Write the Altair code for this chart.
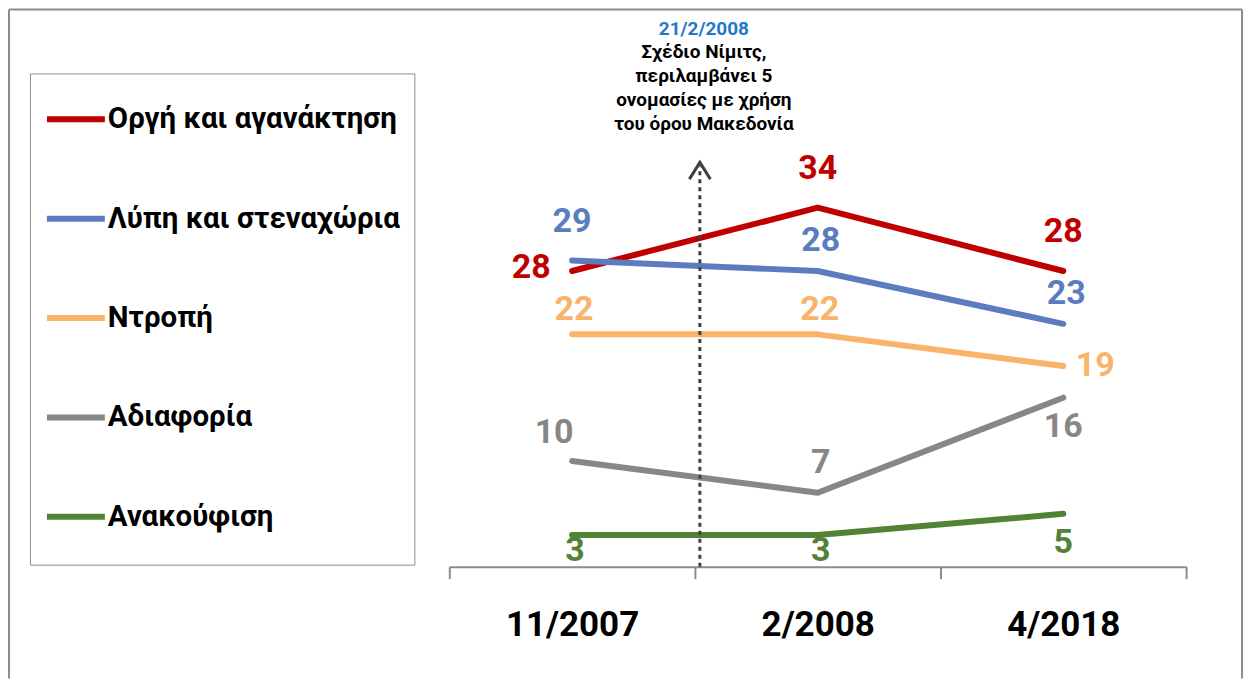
import altair as alt
import pandas as pd

# ---- data -------------------------------------------------------------
periods = ["11/2007", "2/2008", "4/2018"]
series = ["Οργή και αγανάκτηση", "Λύπη και στεναχώρια", "Ντροπή", "Αδιαφορία", "Ανακούφιση"]
anger = [28, 34, 28]
sadness = [29, 28, 23]
shame = [22, 22, 19]
indifference = [10, 7, 16]
relief = [3, 3, 5]
colors = ["#C00000", "#5B7DBF", "#F9B36B", "#878787", "#538135"]

# label placement (style categories, not coordinates)
placements = [
    ["left", "high", "high"],
    ["high", "above", "above"],
    ["low", "low", "right"],
    ["above_left", "above", "below"],
    ["below_tight", "below_tight", "below"],
]

annot_date = "21/2/2008"
annot_lines = ["Σχέδιο Νίμιτς,", "περιλαμβάνει 5", "ονομασίες με χρήση", "του όρου Μακεδονία"]
event_period = "2/2008"

values = [anger, sadness, shame, indifference, relief]
rows = []
for s, vals, pls in zip(series, values, placements):
    for p, v, pl in zip(periods, vals, pls):
        rows.append({"period": p, "series": s, "value": v, "place": pl})
df = pd.DataFrame(rows)

FONT = "Roboto, sans-serif"
W, H = 738, 423
YMAX = 40

xenc = alt.X("period:N", sort=periods,
             scale=alt.Scale(type="band", domain=periods, paddingInner=0, paddingOuter=0),
             axis=alt.Axis(title=None, labelAngle=0, tickBand="extent", grid=False,
                           domainColor="#8c8c8c", domainWidth=2, tickColor="#8c8c8c",
                           tickWidth=2, tickSize=12, labelFont=FONT, labelFontSize=35,
                           labelFontWeight="bold", labelColor="black", labelPadding=29))
yenc = alt.Y("value:Q", scale=alt.Scale(domain=[0, YMAX], nice=False, zero=True), axis=None)
cscale = alt.Scale(domain=series, range=colors)

base = alt.Chart(df)

lines = base.mark_line(strokeWidth=6, strokeCap="round", strokeJoin="round").encode(
    x=xenc, y=yenc,
    color=alt.Color("series:N", scale=cscale, sort=series,
                    legend=alt.Legend(title=" ", titleOrient="bottom", titleFontSize=1,
                                      titlePadding=18,
                                      orient="none", legendX=-420, legendY=-71,
                                      symbolType="stroke", symbolStrokeWidth=6, symbolSize=3364,
                                      labelFont=FONT, labelFontSize=29.5, labelFontWeight="bold",
                                      labelColor="black", labelOffset=0, labelLimit=500,
                                      padding=14, rowPadding=52.5, strokeColor="#8c8c8c")),
    detail="series:N",
)

offsets = {
    "left": dict(dx=-41, dy=-3),
    "right": dict(dx=32, dy=0),
    "high": dict(dx=0, dy=-39),
    "above": dict(dx=3, dy=-30),
    "low": dict(dx=2, dy=-24),
    "above_left": dict(dx=-18, dy=-28),
    "below": dict(dx=0, dy=29),
    "below_tight": dict(dx=3, dy=16),
}
label_layers = []
for name, off in offsets.items():
    label_layers.append(
        base.transform_filter(alt.datum.place == name).mark_text(
            font=FONT, fontSize=34, fontWeight="bold", baseline="middle", align="center", **off
        ).encode(
            x=xenc, y=yenc, text="value:Q",
            color=alt.Color("series:N", scale=cscale, legend=None),
        )
    )

one = alt.Chart(pd.DataFrame({"k": [0]}))
ex = alt.XDatum(event_period, type="nominal", bandPosition=0)

arrow_line = one.mark_rule(strokeDash=[4, 4], strokeWidth=3, color="#404040", xOffset=5).encode(
    x=ex, y=alt.YDatum(0), y2=alt.Y2Datum(37.9)
)
arrow_head = one.mark_point(shape="M-1,0.8L0,-0.8L1,0.8", filled=False, strokeWidth=3,
                            size=441, color="#404040", opacity=1, xOffset=5).encode(
    x=ex, y=alt.YDatum(37.5)
)
annot_blue = one.mark_text(text=annot_date, font=FONT, fontSize=19, fontWeight="bold",
                           color="#2478C8", align="center", baseline="middle", dx=9).encode(
    x=ex, y=alt.value(-116)
)
annot_black = one.mark_text(text=annot_lines, font=FONT, fontSize=19, fontWeight="bold",
                            color="black", align="center", baseline="middle", lineHeight=24,
                            dx=9).encode(
    x=ex, y=alt.value(-92)
)

FC = "#8c8c8c"
frame_top = one.mark_rule(color=FC, strokeWidth=2).encode(
    x=alt.value(-441), x2=alt.value(794), y=alt.value(-135))
frame_left = one.mark_rule(color=FC, strokeWidth=2).encode(
    x=alt.value(-441), y=alt.value(-135), y2=alt.value(535))
frame_right = one.mark_rule(color=FC, strokeWidth=2).encode(
    x=alt.value(794), y=alt.value(-135), y2=alt.value(535))

chart = alt.layer(
    lines, *label_layers, arrow_line, arrow_head, annot_blue, annot_black,
    frame_top, frame_left, frame_right
).properties(width=W, height=H, padding=0).configure_view(stroke=None)

chart.save("out.html", embed_options={"renderer": "svg", "actions": False})
